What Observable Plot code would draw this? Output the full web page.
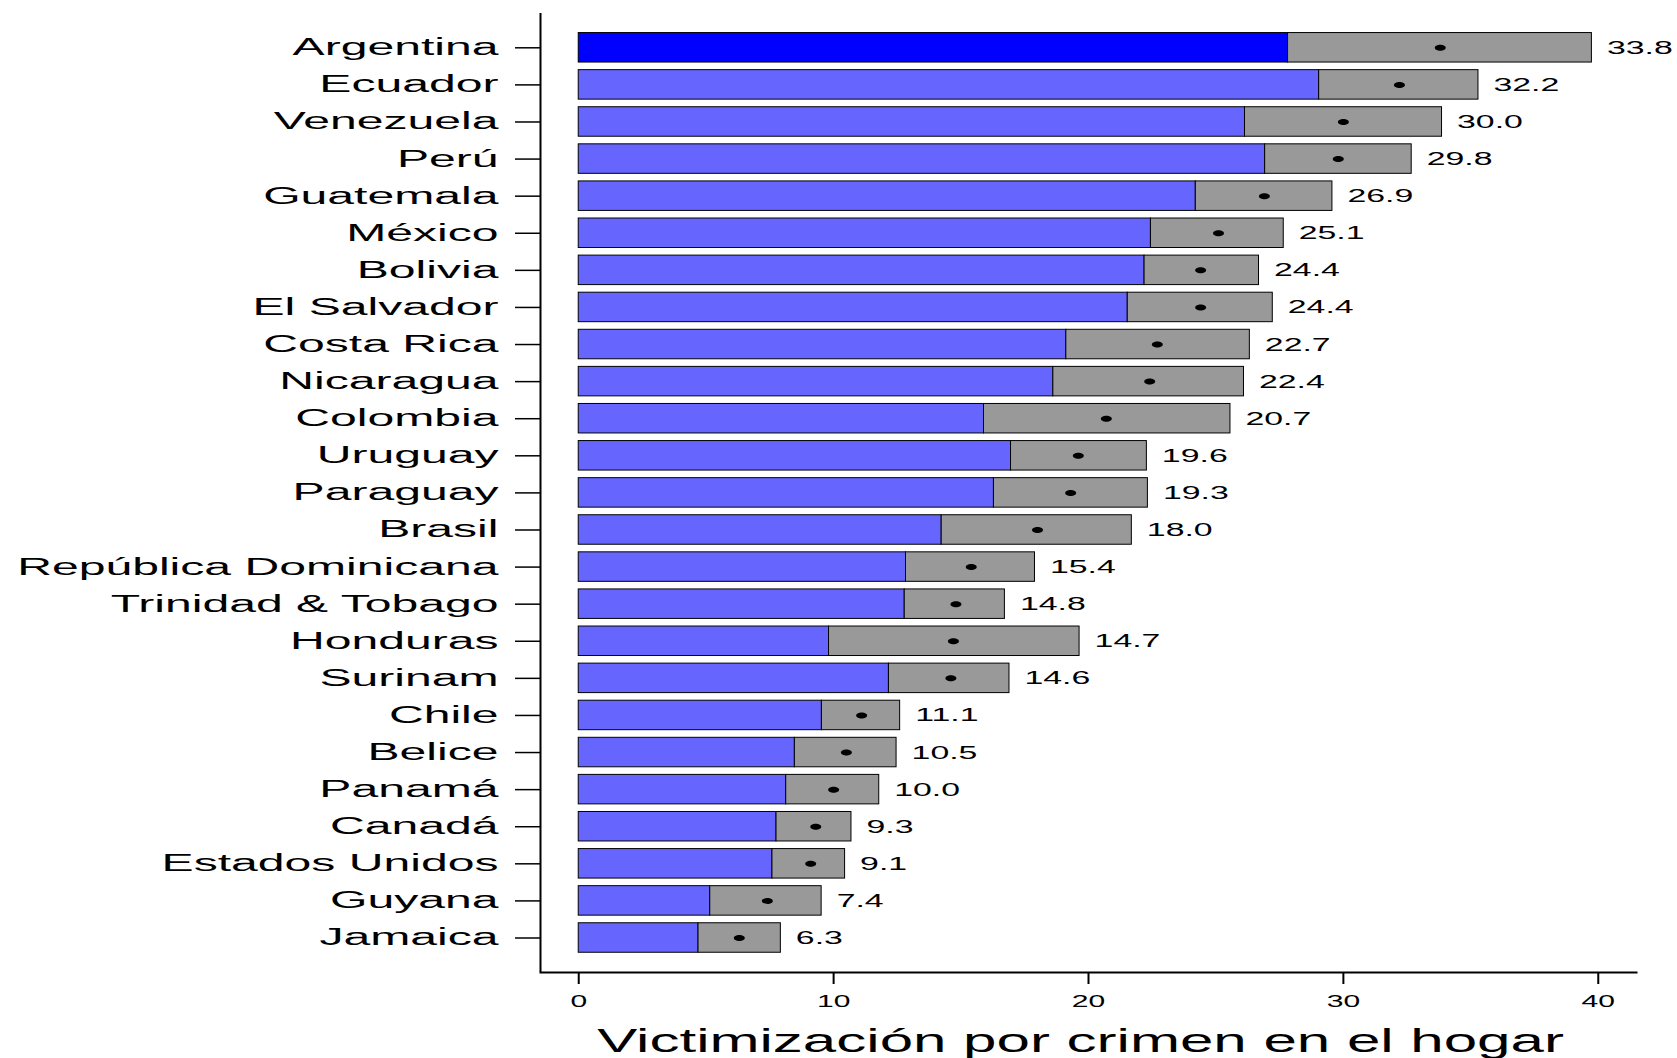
<!DOCTYPE html>
<html><head><meta charset="utf-8">
<script src="https://cdn.jsdelivr.net/npm/d3@7"></script>
<script src="https://cdn.jsdelivr.net/npm/@observablehq/plot@0.6"></script>
<style>body{margin:0;background:#fff;} svg{display:block}</style>
</head><body><div id="chart"></div>
<script>
const countries = ["Argentina","Ecuador","Venezuela","Perú","Guatemala","México","Bolivia","El Salvador","Costa Rica","Nicaragua","Colombia","Uruguay","Paraguay","Brasil","República Dominicana","Trinidad & Tobago","Honduras","Surinam","Chile","Belice","Panamá","Canadá","Estados Unidos","Guyana","Jamaica"];
const means   = [33.8,32.2,30.0,29.8,26.9,25.1,24.4,24.4,22.7,22.4,20.7,19.6,19.3,18.0,15.4,14.8,14.7,14.6,11.1,10.5,10.0,9.3,9.1,7.4,6.3];
const lowerCI = [27.83,29.05,26.14,26.93,24.21,22.45,22.2,21.54,19.13,18.62,15.9,16.96,16.29,14.24,12.84,12.79,9.82,12.17,9.54,8.48,8.14,7.76,7.6,5.16,4.7];
const upperCI = [39.75,35.3,33.87,32.68,29.57,27.66,26.69,27.23,26.33,26.1,25.57,22.29,22.33,21.7,17.9,16.72,19.65,16.9,12.61,12.47,11.79,10.7,10.45,9.53,7.93];
const xTicks = [0,10,20,30,40];
const xTitle = "Victimización por crimen en el hogar";
const highlight = "Argentina";

const rows = countries.map((c,i)=>({country:c, mean:means[i], lo:lowerCI[i], hi:upperCI[i]}));

const ellipse = {draw(ctx){
  const rx=5.5, ry=3, k=0.5523;
  ctx.moveTo(rx,0);
  ctx.bezierCurveTo(rx,k*ry,k*rx,ry,0,ry);
  ctx.bezierCurveTo(-k*rx,ry,-rx,k*ry,-rx,0);
  ctx.bezierCurveTo(-rx,-k*ry,-k*rx,-ry,0,-ry);
  ctx.bezierCurveTo(k*rx,-ry,rx,-k*ry,rx,0);
  ctx.closePath();
}};

const chart = Plot.plot({
  width:1677, height:1058, marginTop:13, marginBottom:86, marginLeft:540, marginRight:41,
  style:{fontFamily:"'Liberation Sans', Arial, sans-serif", background:"#fff", color:"#000"},
  x:{domain:[-1.5,41.5], label:null},
  y:{domain:countries, range:[24.95,959.85], padding:0.205, round:false, label:null},
  color:{type:"identity"},
  marks:[
    Plot.barX(rows,{y:"country", x1:0, x2:"lo", fill:d=>d.country===highlight?"#0000ff":"#6666ff", stroke:"#000", strokeWidth:1}),
    Plot.barX(rows,{y:"country", x1:"lo", x2:"hi", fill:"#999999", stroke:"#000", strokeWidth:1}),
    Plot.dot(rows,{y:"country", x:"mean", symbol:ellipse, fill:"#000", stroke:null, r:3}),
    Plot.text(rows,{y:"country", x:"hi", text:d=>d.mean.toFixed(1), textAnchor:"start", dx:15, fontSize:18.7, fill:"#000"}),
    Plot.axisY({tickSize:25, tickPadding:17, fontSize:23.3, strokeWidth:1.5}),
    Plot.axisX({ticks:xTicks, tickSize:12, tickPadding:11.4, fontSize:15.8, strokeWidth:2, tickFormat:d=>String(d)}),
    Plot.ruleX([-1.5],{strokeWidth:2}),
    Plot.frame({anchor:"bottom", strokeWidth:2}),
    Plot.text([xTitle],{frameAnchor:"bottom", lineAnchor:"middle", dy:69.5, dx:-8, fontSize:32.7, fill:"#000"})
  ]
});
document.getElementById("chart").append(chart);

function stretch(sel, k){
  chart.querySelectorAll(sel).forEach(t=>{
    const w = t.getComputedTextLength();
    t.setAttribute("textLength", w*k);
    t.setAttribute("lengthAdjust","spacingAndGlyphs");
  });
}
stretch('g[aria-label="y-axis tick label"] text', 2.065);
stretch('g[aria-label="x-axis tick label"] text', 1.9);
stretch('g[font-size="18.7"] text', 1.81);
stretch('g[font-size="32.7"] text', 1.837);
</script>
</body></html>
